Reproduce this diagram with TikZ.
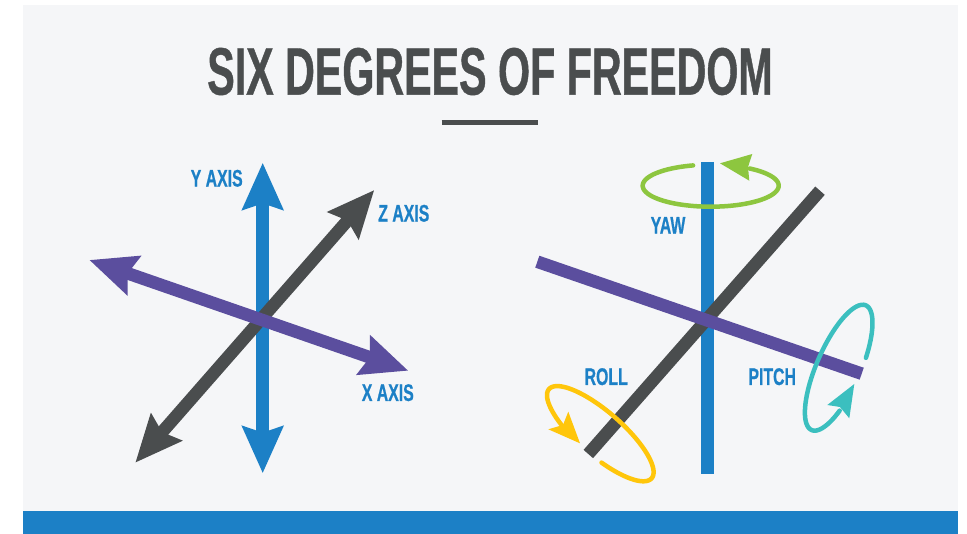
\documentclass[tikz,border=0pt]{standalone}
\usepackage{fontspec}
\usetikzlibrary{arrows.meta}
\newfontfamily\titlefont[FakeStretch=0.615,FakeBold=0.6]{Liberation Sans Bold}
\newfontfamily\labelfont[FakeStretch=0.66,FakeBold=0.6]{Liberation Sans Bold}
\definecolor{panelbg}{HTML}{F5F6F8}
\definecolor{axisblue}{HTML}{1C80C6}
\definecolor{axisdark}{HTML}{4A4D4E}
\definecolor{axispurple}{HTML}{5B4E9E}
\definecolor{ringgreen}{HTML}{8DC63F}
\definecolor{ringteal}{HTML}{3BBFBF}
\definecolor{ringyellow}{HTML}{FFC60B}
\tikzset{
  x=1pt,y=-1pt,
  shaft/.style={line width=12.6pt},
  doublearrow/.style={shaft,{Stealth[length=46.6pt,width=40pt,inset=6pt]}-{Stealth[length=46.6pt,width=40pt,inset=6pt]}},
  axislabel/.style={inner sep=0pt,text=axisblue,font=\labelfont\fontsize{24}{24}\selectfont},
  ring/.style={line width=4.5pt,line cap=round},
}
% centre x, centre y, rx, ry, tilt, start, end
\newcommand{\ringarc}[7]{plot[domain=#6:#7,samples=90,smooth]
  ({#1+#3*cos(\x)*cos(#5)-#4*sin(\x)*sin(#5)},{#2+#3*cos(\x)*sin(#5)+#4*sin(\x)*cos(#5)})}
\begin{document}
\begin{tikzpicture}
\useasboundingbox (0,0) rectangle (967,534);
\fill[white] (0,0) rectangle (967,534);
\fill[panelbg] (23,5) rectangle (958,534);
\fill[axisblue] (23,511) rectangle (958,534);
% title
\node[inner sep=0pt,text=axisdark,font=\titlefont\fontsize{67}{67}\selectfont] (title) at (490,71.5) {SIX DEGREES OF FREEDOM};
\coordinate (ruleL) at (441.5,122.5);
\coordinate (ruleR) at (538,122.5);
\draw[axisdark,line width=5pt] (ruleL) -- (ruleR);
% left: arrows
\coordinate (yTop) at (262.7,162.7);
\coordinate (yBot) at (262.7,473.3);
\coordinate (zTop) at (374.3,190);
\coordinate (zBot) at (135.3,462.7);
\coordinate (xL) at (89.3,260);
\coordinate (xR) at (408.3,370.7);
\draw[doublearrow,axisblue] (yBot) -- (yTop);
\draw[doublearrow,axisdark] (zBot) -- (zTop);
\draw[doublearrow,axispurple] (xL) -- (xR);
\node[axislabel] (ylab) at (216.7,178.3) {Y AXIS};
\node[axislabel] (zlab) at (403.8,213.3) {Z AXIS};
\node[axislabel] (xlab) at (387.8,392.7) {X AXIS};
% right: bars
\coordinate (bTop) at (707.3,162);
\coordinate (bBot) at (707.3,474);
\coordinate (dTop) at (820,190.7);
\coordinate (dBot) at (588.3,454);
\coordinate (pL) at (537.3,261.7);
\coordinate (pR) at (861.7,373.7);
\draw[shaft,axisblue] (bTop) -- (bBot);
\draw[shaft,axisdark] (dTop) -- (dBot);
\draw[shaft,axispurple] (pL) -- (pR);
% rings
\draw[ring,ringgreen] \ringarc{710.7}{185.7}{68}{21}{0}{-55}{255};
\fill[ringgreen] (720,163.3) -- (752.3,154) -- (748,167) -- (749.3,180.7) -- cycle;
\draw[ring,ringyellow] \ringarc{600.3}{433.7}{68}{22}{41}{73}{-240};
\fill[ringyellow] (580,443.3) -- (568.3,411.7) -- (563,425) -- (548.3,429.3) -- cycle;
\draw[ring,ringteal] \ringarc{838.7}{367.7}{68}{22}{-66.5}{73}{-235};
\fill[ringteal] (854.3,384) -- (827.3,405) -- (840,407) -- (849.3,418.3) -- cycle;
\node[axislabel] (yawlab) at (668,225.3) {YAW};
\node[axislabel] (rolllab) at (606.2,376.7) {ROLL};
\node[axislabel] (pitchlab) at (772.2,376.7) {PITCH};
\end{tikzpicture}
\end{document}
